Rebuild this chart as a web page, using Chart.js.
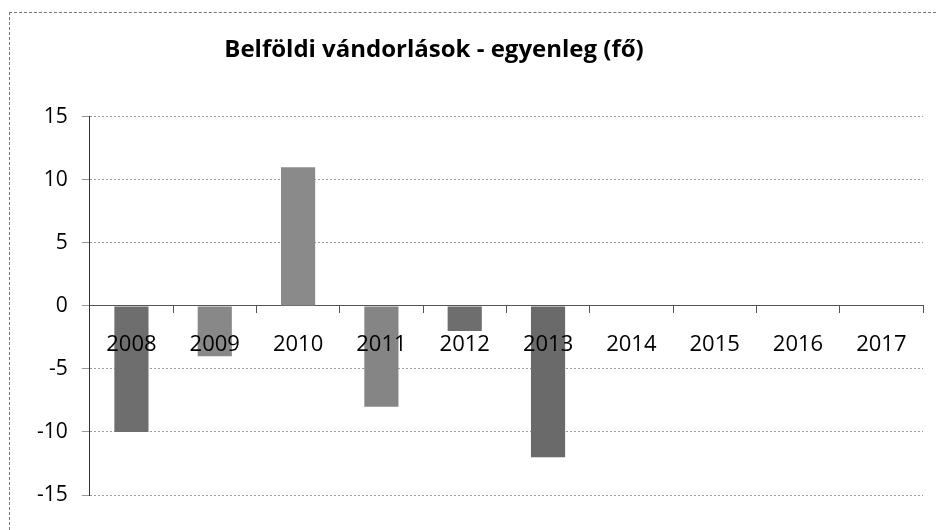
<!DOCTYPE html>
<html>
<head>
<meta charset="utf-8">
<script src="https://cdn.jsdelivr.net/npm/chart.js@4"></script>
<style>
  html, body { margin: 0; padding: 0; background: #fff; }
  #wrap { position: relative; width: 936px; height: 530px; }
  #frame {
    position: absolute; left: 9px; top: 12px; right: 0; bottom: 0;
    border-left: 1px dashed #777; border-top: 1px dashed #777;
  }
  canvas { position: absolute; left: 0; top: 0; }
</style>
</head>
<body>
<div id="wrap">
  <div id="frame"></div>
  <canvas id="chart" width="936" height="530"></canvas>
</div>
<script>
// Belföldi vándorlások - egyenleg (fő)
const years = ['2008', '2009', '2010', '2011', '2012', '2013', '2014', '2015', '2016', '2017'];
const balance = [-10, -4, 11, -8, -2, -12, null, null, null, null];
const barColors = ['#6e6e6e', '#888888', '#8a8a8a', '#858585', '#6e6e6e', '#6a6a6a', '#888888', '#888888', '#888888', '#888888'];
const yTicks = [-15, -10, -5, 0, 5, 10, 15];

const fontFamily = '"Open Sans", "Liberation Sans", sans-serif';

// the title in the original sits a bit left of the page centre
const shiftTitle = {
  id: 'shiftTitle',
  afterLayout(chart) {
    if (chart.titleBlock) {
      chart.titleBlock.left = 0;
      chart.titleBlock.right = 868;
    }
  }
};

const ctx = document.getElementById('chart').getContext('2d');
const chart = new Chart(ctx, {
  type: 'bar',
  data: {
    labels: years,
    datasets: [{
      label: 'egyenleg',
      data: balance,
      backgroundColor: barColors,
      borderWidth: 0,
      categoryPercentage: 1,
      barPercentage: 0.41
    }]
  },
  options: {
    responsive: false,
    animation: false,
    layout: { padding: { left: 23, right: 13, top: 0, bottom: 35 } },
    plugins: {
      legend: { display: false },
      tooltip: { enabled: false },
      title: {
        display: true,
        text: 'Belföldi vándorlások - egyenleg (fő)',
        color: '#000',
        font: { family: fontFamily, size: 24, weight: 'bold' },
        padding: { top: 36, bottom: 52 }
      }
    },
    scales: {
      x: {
        position: { y: 0 },
        grid: { drawOnChartArea: false, drawTicks: true, tickLength: 7, color: '#555', offset: true },
        border: { display: true, color: '#555', width: 1 },
        ticks: {
          z: 1,
          color: '#000',
          font: { family: fontFamily, size: 22 },
          padding: 19,
          maxRotation: 0
        }
      },
      y: {
        min: -15,
        max: 15,
        afterBuildTicks: axis => { axis.ticks = yTicks.map(v => ({ value: v })); },
        grid: { color: '#9a9a9a', tickLength: 8 },
        border: { display: true, color: '#333', width: 1, dash: [2, 2] },
        ticks: {
          color: '#000',
          font: { family: fontFamily, size: 21 },
          padding: 14
        }
      }
    }
  },
  plugins: [shiftTitle]
});
</script>
</body>
</html>
